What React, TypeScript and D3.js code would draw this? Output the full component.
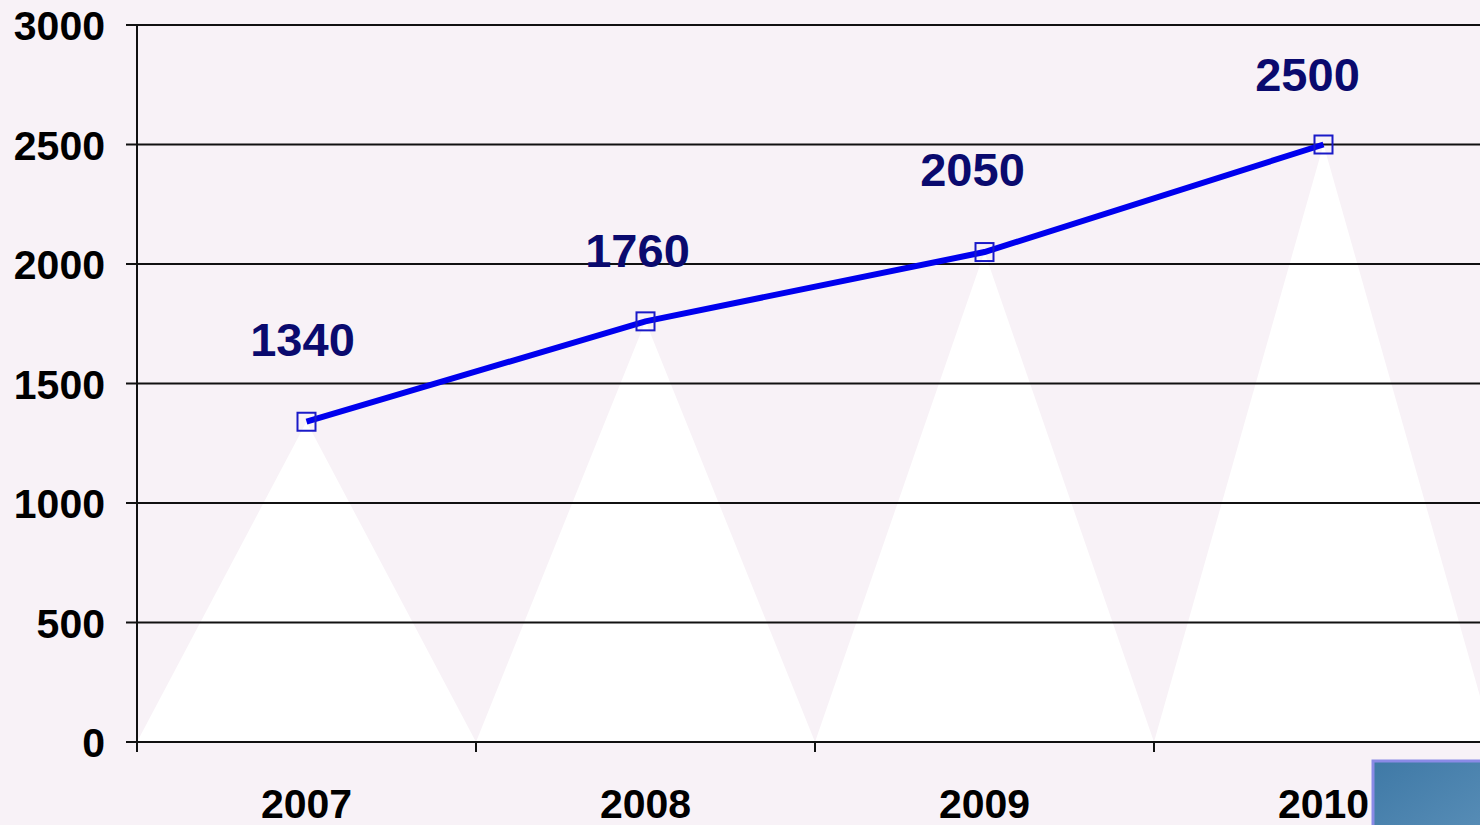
import React from 'react'
import * as d3 from 'd3'

const years = ['2007', '2008', '2009', '2010']
const values = [1340, 1760, 2050, 2500]
const yTicks = [0, 500, 1000, 1500, 2000, 2500, 3000]

const W = 1480
const H = 825

export default function App() {
  const margin = { top: 25, left: 137, bottom: 83 }
  const plotRight = 1493
  const y0 = H - margin.bottom

  const x = d3.scaleBand<string>()
    .domain(years)
    .range([margin.left, plotRight])

  const y = d3.scaleLinear()
    .domain([0, 3000])
    .range([y0, margin.top])

  const cx = (d: string) => (x(d) as number) + x.bandwidth() / 2

  // cone shapes behind the line
  const cone = (d: string, v: number) => {
    const x0 = x(d) as number
    return `M${x0},${y0}L${cx(d)},${y(v)}L${x0 + x.bandwidth()},${y0}Z`
  }

  const line = d3.line<number>()
    .x((_, i) => cx(years[i]))
    .y(v => y(v))

  const font = '"Liberation Sans", Arial, sans-serif'

  return (
    <svg width={W} height={H} style={{ position: 'absolute', left: 0, top: 0, display: 'block' }}>
      <defs>
        <linearGradient id="boxGrad" x1="0" y1="0" x2="1" y2="1">
          <stop offset="0" stopColor="#3f79a6" />
          <stop offset="1" stopColor="#5a8fb8" />
        </linearGradient>
      </defs>
      <rect width={W} height={H} fill="#f8f2f7" />

      {years.map((d, i) => (
        <path key={d} d={cone(d, values[i])} fill="#ffffff" />
      ))}

      {/* gridlines */}
      {yTicks.map(t => (
        <line key={t} x1={margin.left - 11} x2={W} y1={y(t)} y2={y(t)} stroke="#111" strokeWidth={2} />
      ))}
      <line x1={margin.left} x2={margin.left} y1={margin.top} y2={y0 + 10} stroke="#111" strokeWidth={2} />
      {years.map(d => (
        <line key={d} x1={x(d)} x2={x(d)} y1={y0} y2={y0 + 10} stroke="#111" strokeWidth={2} />
      ))}

      {yTicks.map(t => (
        <text key={t} x={105} y={y(t) + 15} textAnchor="end" fontFamily={font} fontWeight="bold" fontSize={41} fill="#000">{t}</text>
      ))}
      {years.map(d => (
        <text key={d} x={cx(d)} y={818} textAnchor="middle" fontFamily={font} fontWeight="bold" fontSize={41} fill="#000">{d}</text>
      ))}

      <path d={line(values) || ''} fill="none" stroke="#0000ee" strokeWidth={6} />
      {years.map((d, i) => (
        <rect key={d} x={cx(d) - 9} y={y(values[i]) - 9} width={18} height={18} fill="none" stroke="#1a1ac8" strokeWidth={2} />
      ))}

      {years.map((d, i) => (
        <text key={d} x={cx(d) - 4 - i * 4} y={y(values[i]) - 60 + (i === 0 || i === 2 ? -6 : 6)} textAnchor="middle" fontFamily={font} fontWeight="bold" fontSize={47} fill="#0a0a6e">{values[i]}</text>
      ))}

      <rect x={1373} y={761} width={120} height={80} fill="url(#boxGrad)" stroke="#8a8ae6" strokeWidth={3} />
    </svg>
  )
}
